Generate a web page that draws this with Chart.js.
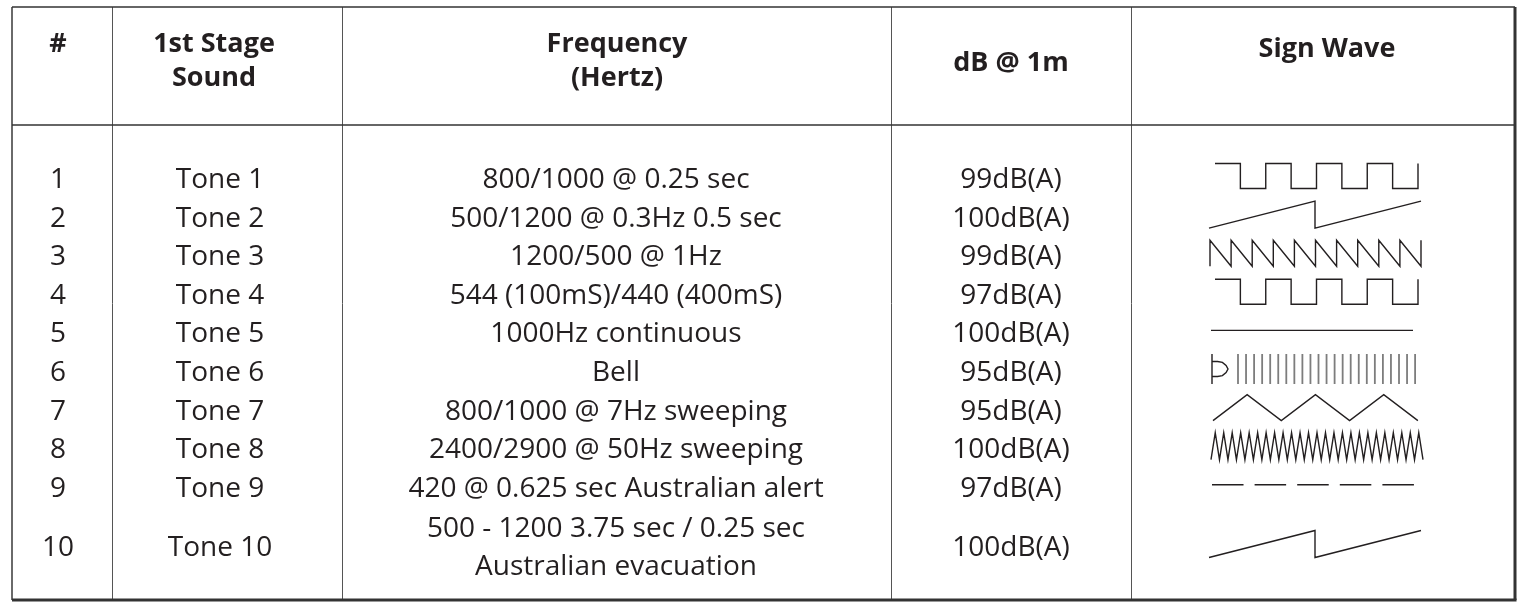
<!DOCTYPE html>
<html>
<head>
<meta charset="utf-8">
<script src="https://cdn.jsdelivr.net/npm/chart.js@4.4.1/dist/chart.umd.min.js"></script>
<style>
  html, body { margin: 0; padding: 0; background: #fff; }
  #wrap { width: 1525px; height: 602px; }
</style>
</head>
<body>
<div id="wrap"><canvas id="toneChart" width="1525" height="602"></canvas></div>
<script>
// ---- table content ----
const headers = ['#', '1st Stage\nSound', 'Frequency\n(Hertz)', 'dB @ 1m', 'Sign Wave'];
const toneIds = ['1', '2', '3', '4', '5', '6', '7', '8', '9', '10'];
const toneNames = ['Tone 1', 'Tone 2', 'Tone 3', 'Tone 4', 'Tone 5', 'Tone 6', 'Tone 7', 'Tone 8', 'Tone 9', 'Tone 10'];
const frequencies = [
    '800/1000 @ 0.25 sec',
    '500/1200 @ 0.3Hz 0.5 sec',
    '1200/500 @ 1Hz',
    '544 (100mS)/440 (400mS)',
    '1000Hz continuous',
    'Bell',
    '800/1000 @ 7Hz sweeping',
    '2400/2900 @ 50Hz sweeping',
    '420 @ 0.625 sec Australian alert',
    '500 - 1200 3.75 sec / 0.25 sec\nAustralian evacuation'
];
const dbLevels = ['99dB(A)', '100dB(A)', '99dB(A)', '97dB(A)', '100dB(A)', '95dB(A)', '95dB(A)', '100dB(A)', '97dB(A)', '100dB(A)'];
// wave icon per row: shape name and number of repeats
const waveTypes = ['square', 'saw', 'ramp', 'square', 'flat', 'bars', 'triangle', 'zigzag', 'dash', 'saw'];
const waveCycles = [4, 2, 10, 4, 1, 23, 3, 25, 5, 2];

// one cycle of each shape, u along the cycle (0..1), v height (0 bottom, 1 top); null = pen up
const waveShapes = {
    square:   { pattern: [[0, 1], [0.5, 1], [0.5, 0], [1, 0]], tail: [0, 1] },
    saw:      { pattern: [[0, 0], [1, 1]], tail: null },
    ramp:     { pattern: [[0, 0], [0, 1], [1, 0]], tail: [0, 1] },
    flat:     { pattern: [[0, 0.5], [1, 0.5]], tail: null },
    bars:     { pattern: [[0, 0], [0, 1], null], tail: null },
    triangle: { pattern: [[0, 0], [0.5, 1]], tail: [0, 0] },
    zigzag:   { pattern: [[0, 0], [0.5, 1]], tail: [0, 0] },
    dash:     { pattern: [[0, 0.5], [0.74, 0.5], null], tail: null }
};
// bell striker glyph drawn in front of the bars (u across, v up)
const bellGlyph = [[0, 0], [0, 1], null, [0, 0.75], [0.35, 0.75], [0.65, 0.72], [0.88, 0.62], [1, 0.5],
                   [0.88, 0.38], [0.65, 0.28], [0.35, 0.25], [0, 0.25]];

// ---- layout ----
const canvasW = 1525, canvasH = 602;
const colEdges = [12, 112, 342, 891, 1131, 1515];
const headerCenters = [58, 214, 617, 1011, 1327];
const bodyCenters = [58, 220, 616, 1011];
const tableTop = 7, headerBottom = 125, tableBottom = 600;
const headerBaselines = { first: 52, second: 86, db: 71, wave: 57 };
const firstBaseline = 188, rowPitch = 38.6, lastBaseline = 556, twoLineGap = 38;
const waveLayout = {
    square:   { x0: 1215, period: 50.75, height: 25 },
    saw:      { x0: 1209, period: 106, height: 27 },
    ramp:     { x0: 1210, period: 21.1, height: 26 },
    flat:     { x0: 1211, period: 202, height: 0 },
    bars:     { x0: 1238, period: 8.05, height: 30 },
    triangle: { x0: 1213, period: 68.3, height: 26 },
    zigzag:   { x0: 1211, period: 8.48, height: 27 },
    dash:     { x0: 1212, period: 42.6, height: 0 }
};
const bellBox = { x0: 1212, width: 16, height: 30 };
const ink = '#231f20';
const bodyFont = '28px "Open Sans", sans-serif';
const headFont = 'bold 27px "Open Sans", sans-serif';

function rowBaseline(i) {
    return i === toneIds.length - 1 ? lastBaseline : firstBaseline + i * rowPitch;
}
function waveMid(i) {
    return rowBaseline(i) - 12;
}

// turn a shape + repeats into scatter points in page units
function wavePoints(i) {
    const shape = waveShapes[waveTypes[i]];
    const box = waveLayout[waveTypes[i]];
    const mid = waveMid(i);
    const pts = [];
    let lastX = box.x0;
    const put = (c, p) => {
        if (p === null) { pts.push({ x: lastX, y: null }); return; }
        lastX = box.x0 + (c + p[0]) * box.period;
        pts.push({ x: lastX, y: mid + box.height / 2 - p[1] * box.height });
    };
    for (let c = 0; c < waveCycles[i]; c++) {
        shape.pattern.forEach(p => put(c, p));
    }
    if (shape.tail) put(waveCycles[i], shape.tail);
    return pts;
}

function bellPoints(i) {
    const mid = waveMid(i);
    let lastX = bellBox.x0;
    return bellGlyph.map(p => {
        if (p === null) return { x: lastX, y: null };
        lastX = bellBox.x0 + p[0] * bellBox.width;
        return { x: lastX, y: mid + bellBox.height / 2 - p[1] * bellBox.height };
    });
}

const datasets = [];
toneIds.forEach((id, i) => {
    datasets.push({
        label: toneNames[i],
        data: wavePoints(i),
        borderColor: waveTypes[i] === 'bars' ? '#7d7d7d' : ink,
        borderWidth: waveTypes[i] === 'bars' ? 1.8 : 1.4
    });
    if (waveTypes[i] === 'bars') {
        datasets.push({ label: toneNames[i] + ' bell', data: bellPoints(i), borderColor: ink, borderWidth: 1.4 });
    }
});

// grid lines and all the table text
const tablePlugin = {
    id: 'toneTable',
    beforeDatasetsDraw(chart) {
        const ctx = chart.ctx;
        const sx = chart.scales.x, sy = chart.scales.y;
        const line = (x1, y1, x2, y2, w, c) => {
            ctx.beginPath();
            ctx.lineWidth = w;
            ctx.strokeStyle = c;
            ctx.moveTo(sx.getPixelForValue(x1), sy.getPixelForValue(y1));
            ctx.lineTo(sx.getPixelForValue(x2), sy.getPixelForValue(y2));
            ctx.stroke();
        };
        ctx.save();
        for (let k = 1; k < colEdges.length - 1; k++) {
            line(colEdges[k] + 0.5, tableTop, colEdges[k] + 0.5, tableBottom, 1, '#555');
        }
        line(colEdges[0], tableTop, colEdges[0], tableBottom, 2, '#6a6a6a');
        line(colEdges[0], tableTop, colEdges[5], tableTop, 1.5, '#333');
        line(colEdges[0], headerBottom, colEdges[5], headerBottom, 1.5, '#333');
        line(colEdges[0], tableBottom, colEdges[5] + 1.5, tableBottom, 3, '#333');
        line(colEdges[5], tableTop, colEdges[5], tableBottom, 3, '#333');
        ctx.restore();
    },
    afterDatasetsDraw(chart) {
        const ctx = chart.ctx;
        const sx = chart.scales.x, sy = chart.scales.y;
        const text = (s, x, y) => ctx.fillText(s, sx.getPixelForValue(x), sy.getPixelForValue(y));
        ctx.save();
        ctx.fillStyle = ink;
        ctx.textAlign = 'center';
        ctx.textBaseline = 'alphabetic';

        ctx.font = headFont;
        headers.forEach((h, k) => {
            const lines = h.split('\n');
            if (lines.length === 2) {
                text(lines[0], headerCenters[k], headerBaselines.first);
                text(lines[1], headerCenters[k], headerBaselines.second);
            } else if (k === 3) {
                text(h, headerCenters[k], headerBaselines.db);
            } else if (k === 4) {
                text(h, headerCenters[k], headerBaselines.wave);
            } else {
                text(h, headerCenters[k], headerBaselines.first);
            }
        });

        ctx.font = bodyFont;
        toneIds.forEach((id, i) => {
            const y = rowBaseline(i);
            text(id, bodyCenters[0], y);
            text(toneNames[i], bodyCenters[1], y);
            const f = frequencies[i].split('\n');
            if (f.length === 2) {
                text(f[0], bodyCenters[2], y - twoLineGap / 2);
                text(f[1], bodyCenters[2], y + twoLineGap / 2);
            } else {
                text(f[0], bodyCenters[2], y);
            }
            text(dbLevels[i], bodyCenters[3], y);
        });
        ctx.restore();
    }
};

const toneChart = new Chart(document.getElementById('toneChart').getContext('2d'), {
    type: 'line',
    data: { datasets: datasets },
    options: {
        responsive: false,
        animation: false,
        events: [],
        layout: { padding: 0 },
        elements: {
            point: { radius: 0 },
            line: { tension: 0, fill: false, borderJoinStyle: 'miter', borderCapStyle: 'butt' }
        },
        spanGaps: false,
        scales: {
            x: { type: 'linear', min: 0, max: canvasW, display: false },
            y: { type: 'linear', min: 0, max: canvasH, reverse: true, display: false }
        },
        plugins: {
            legend: { display: false },
            tooltip: { enabled: false }
        }
    },
    plugins: [tablePlugin]
});
</script>
</body>
</html>
